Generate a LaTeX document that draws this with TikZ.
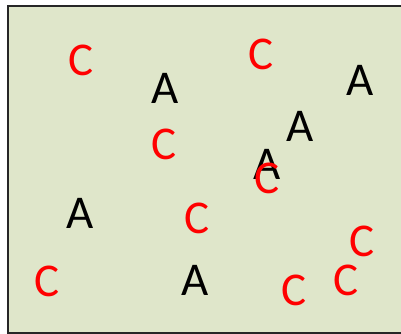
\documentclass[tikz,border=0pt]{standalone}
\usepackage{fontspec}
\setmainfont{Carlito}
\definecolor{panel}{HTML}{DFE6CA}
\tikzset{
  letter/.style={inner sep=0pt, font=\fontsize{47}{47}\selectfont},
  lettera/.style={letter, text=black},
  letterc/.style={letter, text=red},
}
\begin{document}
\begin{tikzpicture}[x=1pt, y=-1pt]
  \useasboundingbox (0,0) rectangle (401,334);
  % panel background, open on the right side
  \fill[panel] (8,6) rectangle (401,333);
  \draw[line width=2pt, black!85] (401,6) -- (8,6) -- (8,333) -- (401,333);
  % letters
  \node[letterc] (c1) at (81,60) {C};
  \node[lettera] (a1) at (165,88) {A};
  \node[letterc] (c2) at (261,54) {C};
  \node[lettera] (a2) at (360,80) {A};
  \node[lettera] (a3) at (300,126) {A};
  \node[letterc] (c3) at (164,144) {C};
  \node[lettera] (a4) at (267,164) {A};
  \node[letterc] (c4) at (267,178) {C};
  \node[lettera] (a5) at (80,213) {A};
  \node[letterc] (c5) at (197,218) {C};
  \node[letterc] (c6) at (362,241) {C};
  \node[letterc] (c7) at (47,281) {C};
  \node[lettera] (a6) at (195,280) {A};
  \node[letterc] (c8) at (294,290) {C};
  \node[letterc] (c9) at (346,280) {C};
\end{tikzpicture}
\end{document}
